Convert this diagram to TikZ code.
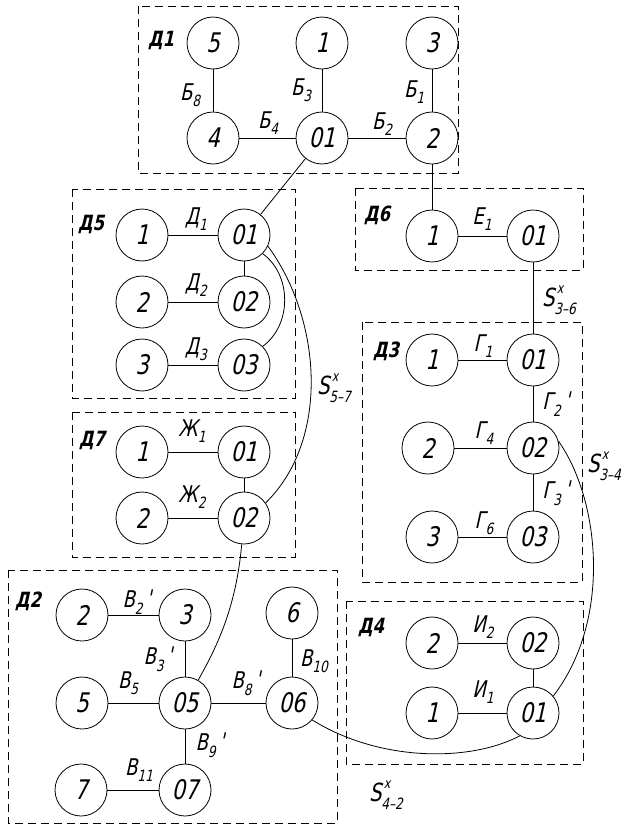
\documentclass[tikz,border=0pt]{standalone}
\usepackage{fontspec}
\newfontfamily\gost[FakeStretch=0.78,FakeSlant=0.22]{DejaVu Sans}
\newcommand\lo[1]{\raisebox{-0.28em}{\fontsize{15.5}{15.5}\selectfont #1}}
\newcommand\skx[1]{S\makebox[0pt][l]{\raisebox{0.55em}{\fontsize{14}{14}\selectfont\,x}}\raisebox{-0.3em}{\fontsize{15.5}{15.5}\selectfont #1}}
\newcommand\pr{\,\raisebox{0.05em}{\char"27}}
\begin{document}
\begin{tikzpicture}[x=1pt,y=-1pt,
  v/.style={circle,draw,line width=0.8pt,minimum size=52pt,inner sep=0pt,font=\gost\fontsize{27}{27}\selectfont},
  e/.style={line width=0.8pt},
  lbl/.style={font=\gost\fontsize{23}{23}\selectfont,inner sep=0pt},
  slbl/.style={font=\gost\fontsize{25}{25}\selectfont,inner sep=0pt},
  grp/.style={font=\gost\bfseries\fontsize{21}{21}\selectfont,inner sep=0pt},
  box/.style={draw,dash pattern=on 8pt off 5pt,line width=1pt}]
\useasboundingbox (0,0) rectangle (626,825);
% group boxes
\draw[box] (138,6) rectangle (458,173);
\draw[box] (72,189) rectangle (295,398);
\draw[box] (355,188) rectangle (583,270);
\draw[box] (362,322) rectangle (582,582);
\draw[box] (72,412) rectangle (295,557);
\draw[box] (8,570) rectangle (337,823);
\draw[box] (346,601) rectangle (583,764);
% group labels
\node[grp] (g1) at (161,40) {Д1};
\node[grp] (g5) at (91,224) {Д5};
\node[grp] (g6) at (377,215) {Д6};
\node[grp] (g3) at (386,351) {Д3};
\node[grp] (g7) at (92,440) {Д7};
\node[grp] (g2) at (28,601) {Д2};
\node[grp] (g4) at (371,627) {Д4};
% D1
\node[v] (a5) at (213,43) {5};
\node[v] (a1) at (322,43) {1};
\node[v] (a3) at (432,43) {3};
\node[v] (a4) at (213,138) {4};
\node[v] (a01) at (322,138) {01};
\node[v] (a2) at (432,138) {2};
% D5
\node[v] (b1) at (142,235) {1};
\node[v] (b01) at (244,235) {01};
\node[v] (b2) at (142,302) {2};
\node[v] (b02) at (244,302) {02};
\node[v] (b3) at (142,365) {3};
\node[v] (b03) at (244,365) {03};
% D6
\node[v] (c1) at (432,236) {1};
\node[v] (c01) at (533,236) {01};
% D3
\node[v] (d1) at (432,360) {1};
\node[v] (d01) at (533,360) {01};
\node[v] (d2) at (428,448) {2};
\node[v] (d02) at (533,448) {02};
\node[v] (d3) at (432,537) {3};
\node[v] (d03) at (533,537) {03};
% D7
\node[v] (f1) at (142,452) {1};
\node[v] (f01) at (244,452) {01};
\node[v] (f2) at (142,518) {2};
\node[v] (f02) at (244,518) {02};
% D2
\node[v] (h2) at (82,615) {2};
\node[v] (h3) at (185,615) {3};
\node[v] (h6) at (292,613) {6};
\node[v] (h5) at (82,703) {5};
\node[v] (h05) at (185,703) {05};
\node[v] (h06) at (292,703) {06};
\node[v] (h7) at (81,790) {7};
\node[v] (h07) at (185,790) {07};
% D4
\node[v] (k2) at (432,643) {2};
\node[v] (k02) at (533,643) {02};
\node[v] (k1) at (432,713) {1};
\node[v] (k01) at (533,713) {01};
% edges D1
\draw[e] (a5) -- (a4);
\draw[e] (a1) -- (a01);
\draw[e] (a3) -- (a2);
\draw[e] (a4) -- (a01);
\draw[e] (a01) -- (a2);
\draw[e] (a01) -- (b01);
\draw[e] (a2) -- (c1);
% D5
\draw[e] (b1) -- (b01);
\draw[e] (b2) -- (b02);
\draw[e] (b3) -- (b03);
\draw[e] (b01) -- (b02);
\draw[e] (b01.-45) .. controls (292,275) and (292,325) .. (b03.45);
\draw[e] (b01.-25) .. controls (322,320) and (330,440) .. (f02.35);
% D6
\draw[e] (c1) -- (c01);
\draw[e] (c01) -- (d01);
% D3
\draw[e] (d1) -- (d01);
\draw[e] (d2) -- (d02);
\draw[e] (d3) -- (d03);
\draw[e] (d01) -- (d02);
\draw[e] (d02) -- (d03);
\draw[e] (d02.15) .. controls (600,500) and (612,620) .. (k01.40);
% D7
\draw[e] (f1) -- (f01);
\draw[e] (f2) -- (f02);
\draw[e] (f01) -- (f02);
\draw[e] (f02.-95) .. controls (236,610) and (215,650) .. (h05.60);
% D2
\draw[e] (h2) -- (h3);
\draw[e] (h3) -- (h05);
\draw[e] (h5) -- (h05);
\draw[e] (h05) -- (h06);
\draw[e] (h6) -- (h06);
\draw[e] (h05) -- (h07);
\draw[e] (h7) -- (h07);
\draw[e] (h06.-40) .. controls (380,762) and (470,762) .. (k01.-120);
% D4
\draw[e] (k2) -- (k02);
\draw[e] (k1) -- (k01);
\draw[e] (k02) -- (k01);
% edge labels
\node[lbl] (lb8) at (190,95) {Б\lo{8}};
\node[lbl] (lb3) at (301,90) {Б\lo{3}};
\node[lbl] (lb1) at (414,92) {Б\lo{1}};
\node[lbl] (lb4) at (268,123) {Б\lo{4}};
\node[lbl] (lb2) at (382,124) {Б\lo{2}};
\node[lbl] (ld1) at (196,219) {Д\lo{1}};
\node[lbl] (ld2) at (196,285) {Д\lo{2}};
\node[lbl] (ld3) at (196,349) {Д\lo{3}};
\node[lbl] (le1) at (482,219) {Е\lo{1}};
\node[slbl] (ls36) at (559,300) {\skx{3–6}};
\node[lbl] (lg1) at (483,346) {Г\lo{1}};
\node[lbl] (lg2) at (556,404) {Г\lo{2}\pr};
\node[lbl] (lg4) at (484,433) {Г\lo{4}};
\node[lbl] (lg3) at (556,493) {Г\lo{3}\pr};
\node[lbl] (lg6) at (484,523) {Г\lo{6}};
\node[slbl] (ls34) at (604,466) {\skx{3–4}};
\node[slbl] (ls57) at (334,388) {\skx{5–7}};
\node[lbl] (lj1) at (192,431) {Ж\lo{1}};
\node[lbl] (lj2) at (192,497) {Ж\lo{2}};
\node[lbl] (lv2) at (137,602) {В\lo{2}\pr};
\node[lbl] (lv3) at (158,659) {В\lo{3}\pr};
\node[lbl] (lv5) at (128,683) {В\lo{5}};
\node[lbl] (lv8) at (246,683) {В\lo{8}\pr};
\node[lbl] (lv10) at (314,661) {В\lo{10}};
\node[lbl] (lv9) at (210,745) {В\lo{9}\pr};
\node[lbl] (lv11) at (139,770) {В\lo{11}};
\node[lbl] (li2) at (483,627) {И\lo{2}};
\node[lbl] (li1) at (483,692) {И\lo{1}};
\node[slbl] (ls42) at (386,795) {\skx{4–2}};
\end{tikzpicture}
\end{document}
